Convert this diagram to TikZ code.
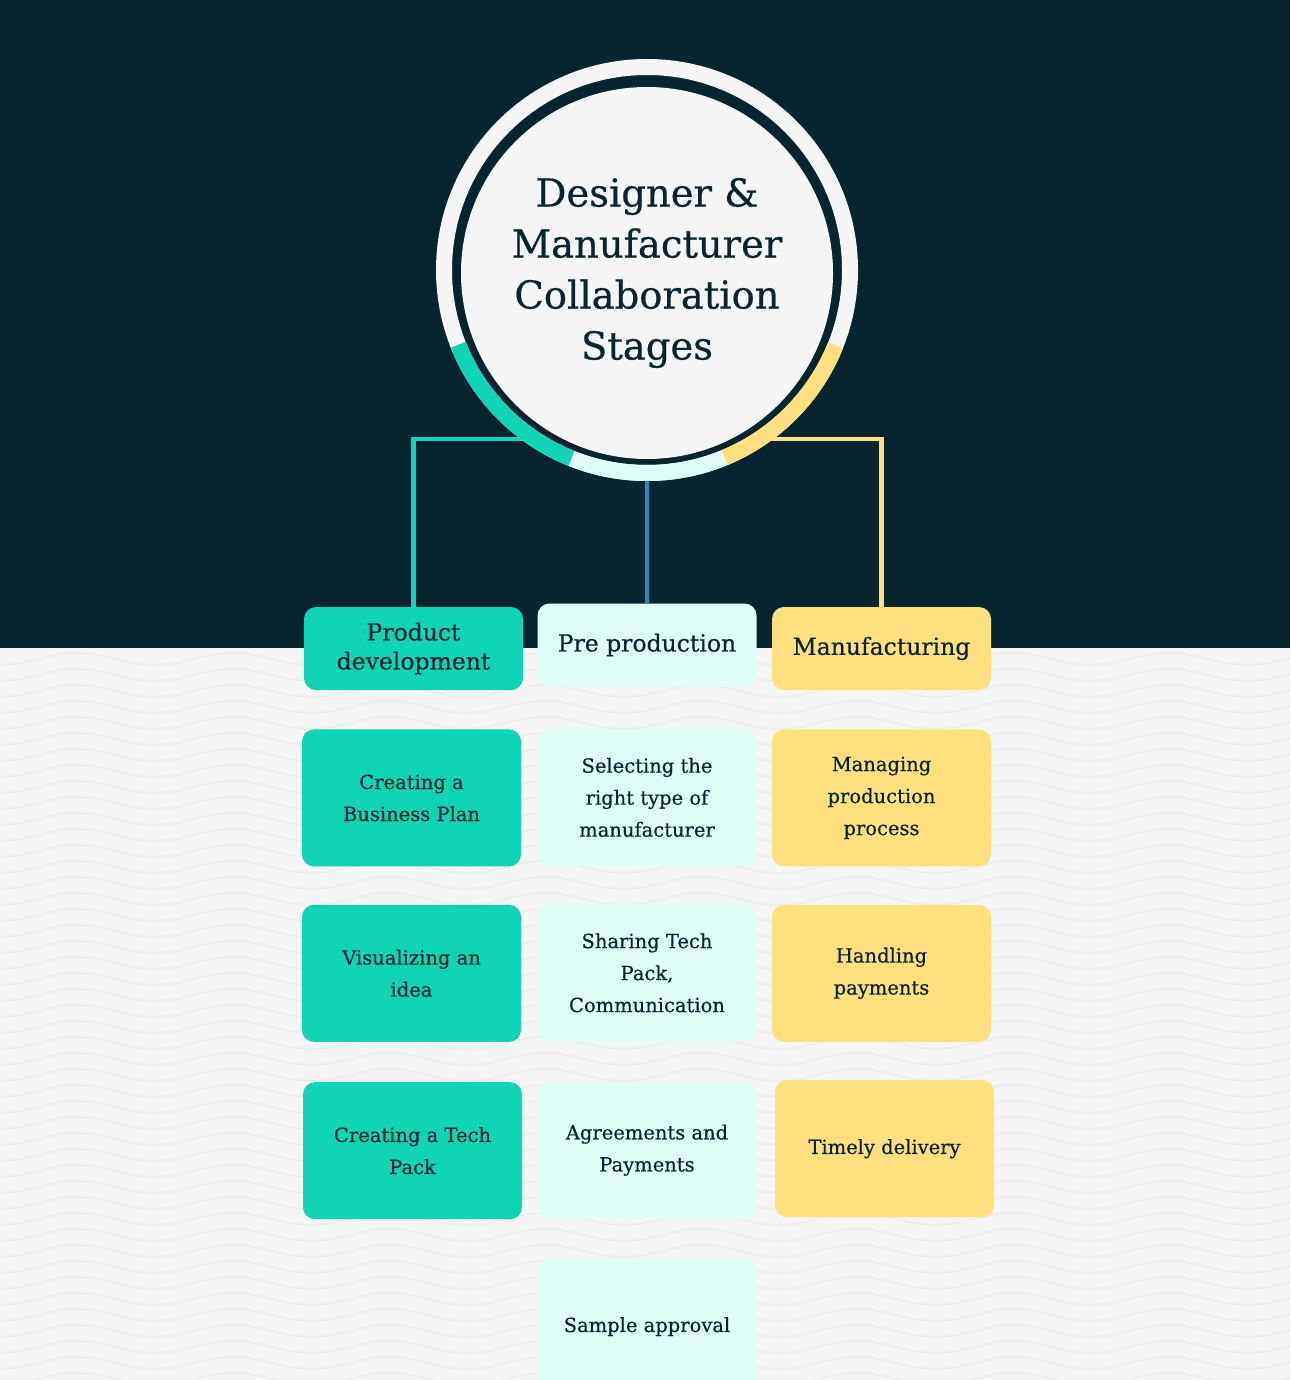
\documentclass[tikz,border=0pt]{standalone}
\usepackage{fontspec}
\setmainfont{DejaVu Serif}[FakeBold=0.5]
\usetikzlibrary{positioning,calc}
\definecolor{nightbg}{HTML}{08242E}
\definecolor{paper}{HTML}{F5F5F5}
\definecolor{wavegray}{HTML}{EDEDED}
\definecolor{inkdark}{HTML}{0B2530}
\definecolor{tealbox}{HTML}{0FD5B5}
\definecolor{palebox}{HTML}{E0FDF8}
\definecolor{yellowbox}{HTML}{FFE07E}
\definecolor{bluelink}{HTML}{1F8FBE}
\tikzset{
    stagebox/.style = {
        rounded corners=12pt,
        minimum width=219pt,
        minimum height=137pt,
        inner sep=0pt,
        align=center,
        text=inkdark,
        font=\fontsize{19.5}{32}\selectfont,
        },
    headbox/.style = {
        stagebox,
        minimum height=83pt,
        font=\fontsize{23.5}{29}\selectfont,
        },
    pd/.style = {
        fill = tealbox,
        },
    pp/.style = {
        fill = palebox,
        },
    mf/.style = {
        fill = yellowbox,
        },
    link/.style = {
        line width=4.5pt,
        },
    ring/.style = {
        line width=16pt,
        },
    wave/.style = {
        draw = wavegray,
        line width=2pt,
        },
}

\begin{document}
\begin{tikzpicture}[x=1pt, y=-1pt]
            \useasboundingbox (0,0) rectangle (1290,1380);
            \clip (0,0) rectangle (1290,1380);
            \fill[paper] (0,0) rectangle (1290,1380);
            \foreach \k in {0,...,45}
                \draw[wave] plot[domain=0:1290, samples=120, smooth] (\x, {659+16*\k-6*cos((\x-77)/156*360)});
            \fill[nightbg] (0,0) rectangle (1290,648);

            \node[circle, fill=paper, minimum size=372pt, inner sep=0pt, align=center, text=inkdark,
                  font=\fontsize{38.5}{51}\selectfont] (hub) at (647,273)
                  {Designer \&\\ Manufacturer\\ Collaboration\\ Stages};

            \node[headbox, pd] (pdhead) at (413.5,648.5) {Product\\ development};
            \node[headbox, pp] (pphead) at (647,645) {Pre production};
            \node[headbox, mf] (mfhead) at (881.5,648.5) {Manufacturing};

            \node[stagebox, pd, below=39pt of pdhead, xshift=-2pt] (pd1) {Creating a\\ Business Plan};
            \node[stagebox, pd, below=38pt of pd1] (pd2) {Visualizing an\\ idea};
            \node[stagebox, pd, below=40pt of pd2, xshift=1pt] (pd3) {Creating a Tech\\ Pack};

            \node[stagebox, pp, below=42pt of pphead] (pp1) {Selecting the\\ right type of\\ manufacturer};
            \node[stagebox, pp, below=38pt of pp1] (pp2) {Sharing Tech\\ Pack,\\ Communication};
            \node[stagebox, pp, below=40pt of pp2] (pp3) {Agreements and\\ Payments};
            \node[stagebox, pp, below=39pt of pp3] (pp4) {Sample approval};

            \node[stagebox, mf, below=39pt of mfhead] (mf1) {Managing\\ production\\ process};
            \node[stagebox, mf, below=38pt of mf1] (mf2) {Handling\\ payments};
            \node[stagebox, mf, below=38pt of mf2, xshift=3pt] (mf3) {Timely delivery};

            \coordinate (pdjoin) at ($(hub.center)+(-118,166)$);
            \coordinate (ppjoin) at ($(hub.center)+(0,200)$);
            \coordinate (mfjoin) at ($(hub.center)+(118,166)$);

            \draw[link, draw=tealbox] (pdjoin) -| (pdhead.north);
            \draw[link, draw=bluelink] (ppjoin) -- (pphead.north);
            \draw[link, draw=yellowbox] (mfjoin) -| (mfhead.north);

            \draw[ring, draw=paper] (hub.center) ++(0,-3) circle[radius=203];
            \draw[ring, draw=tealbox] ($(hub.center)+(0,-3)+(158.4:203)$) arc[start angle=158.4, end angle=111.8, radius=203];
            \draw[ring, draw=palebox] ($(hub.center)+(0,-3)+(111.8:203)$) arc[start angle=111.8, end angle=67.5, radius=203];
            \draw[ring, draw=yellowbox] ($(hub.center)+(0,-3)+(67.5:203)$) arc[start angle=67.5, end angle=21.8, radius=203];
\end{tikzpicture}
\end{document}
